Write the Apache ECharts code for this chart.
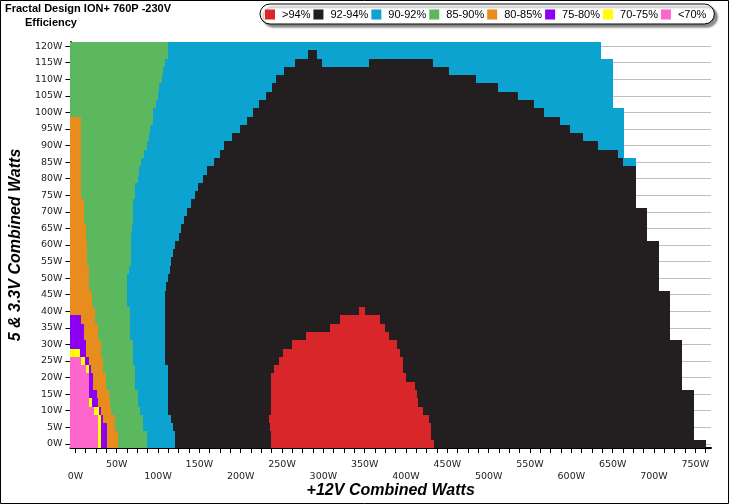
<!DOCTYPE html>
<html><head><meta charset="utf-8">
<script src="https://cdn.jsdelivr.net/npm/echarts@6/dist/echarts.min.js"></script>
<style>html,body{margin:0;padding:0;background:#fff}#c{width:729px;height:504px}</style>
</head><body><div id="c"></div>
<script>
// ---- data (watts) ----
const yRows = [0,2.5,5,7.5,10,12.5,15,17.5,20,22.5,25,27.5,30,32.5,35,37.5,40,42.5,45,47.5,50,52.5,55,57.5,60,62.5,65,67.5,70,72.5,75,77.5,80,82.5,85,87.5,90,92.5,95,97.5,100,102.5,105,107.5,110,112.5,115,117.5,120];
const pinkEnd   = [27.4,27.4,27.4,27.4,23,16.1,16.1,16.1,16.1,13,7];
const yellowEnd = [30.6,30.6,30.6,30.6,28.5,19.5,null,null,null,16,12,6];
const purpleEnd = [38.2,38.2,38.2,34,31,27.4,26.1,21.3,21.3,19,16.5,13.2,13.2,10.5,10.5,6.5];
const orangeEnd = [51.4,51.4,47.4,47.4,43.3,41.8,40.6,36.6,36.6,33.3,33.3,30.6,30.6,27.3,27.3,23.3,23.3,19.7,19.7,16.5,16.5,16.5,14.1,14.1,14.1,12.5,12.5,10.1,10.1,10.1,6.5,6.5,6.5,6.5,6.5,6.5,6.5,6.5,6.5,6.5];
const greenEnd  = [86.3,86.3,82.3,82.3,78.7,75.5,75.5,72.7,72.7,72.7,69.4,69.4,69.4,65.8,65.8,65.8,65.8,62.6,62.6,62.6,62.6,64.6,66.7,66.7,66.7,66.7,68.2,69.4,69.4,69.4,72.7,72.7,75.5,77.3,79.1,83,86.3,88.7,90.3,94.3,94.3,97.5,99.5,100.7,104.3,106.1,108.3,111.6,111.6];
const blackStart= [120.8,120.8,117.6,115.2,112.4,112.4,112.4,112.4,112.4,111.6,108.3,108.3,108.3,108.3,108.3,108.3,108.3,108.3,108.3,109.7,112.4,114,115.5,118.4,120.8,124.8,127.2,131.4,135.6,139.8,145.2,148.9,154.9,159.7,167.8,175.3,180.1,189.2,199.4,207.8,214.4,222.3,230.7,237.3,242.7,252.3,265.6,281];
const gapRows   = [115];
const gapStart  = [297.9];
const gapEnd    = [355.8];
const redStart  = [237,237,235,234,237,237,237,237,237,240.7,246,251,262,278.5,307.7,320,343];
const redEnd    = [434.4,430.4,430.4,427.7,420.5,414,413.2,411,400.4,396.4,396.4,393.1,389.2,380,375.1,368,350];
const blackEndRows = [85,87.5,90,92.5,95,97.5,100,102.5,105,107.5,110,112.5,115,117.5];
const blackEndW    = [663,656,632.6,614.6,598.9,586.9,566.4,554.4,535,511.1,484.2,452.1,432.9,292];
const dataEnd   = [762.6,748,748,748,748,748,748,734.5,734.5,734.5,734.5,734.5,734.5,720,720,720,720,720,720,705.7,705.7,705.7,705.7,705.7,705.7,691,691,691,691,678,678,678,678,678,678,664,664,664,664,664,664,650,650,650,650,650,650,636,636];
const classNames  = ['>94%','92-94%','90-92%','85-90%','80-85%','75-80%','70-75%','<70%'];
const classColors = ['#d9262b','#231f20','#0ca3d0','#5cb85e','#e98c1e','#8b00f3','#ffff00','#ff66cc'];
const yTickLabels = [0,5,10,15,20,25,30,35,40,45,50,55,60,65,70,75,80,85,90,95,100,105,110,115,120];
const xLabelsUpper = [50,150,250,350,450,550,650,750];
const xLabelsLower = [0,100,200,300,400,500,600,700];

// ---- layout constants ----
const xMin = -6, xMax = 769, yMin = -1.25, yMax = 121.25, rowStep = 2.5;
const xMinorTicks = []; for (let v = 0; v <= 762.5; v += 12.5) xMinorTicks.push(v);
const yMinorTicks = []; for (let v = 0; v <= 121; v += 1) yMinorTicks.push(v);

const segs = classNames.map(() => []);
const ci = n => classNames.indexOf(n);
yRows.forEach((v, i) => {
  const hasBlack = blackStart[i] != null;
  const gi = gapRows.indexOf(v);
  const ri = i < redStart.length ? i : -1;
  const bi = blackEndRows.indexOf(v);
  const bEnd = hasBlack ? (bi >= 0 ? blackEndW[bi] : dataEnd[i]) : null;
  const seq = [
    ['<70%', pinkEnd[i]], ['70-75%', yellowEnd[i]], ['75-80%', purpleEnd[i]], ['80-85%', orangeEnd[i]],
    ['85-90%', greenEnd[i]], ['90-92%', blackStart[i]],
    ['92-94%', gi >= 0 ? gapStart[gi] : null], ['90-92%', gi >= 0 ? gapEnd[gi] : null],
    ['92-94%', ri >= 0 ? redStart[ri] : null], ['>94%', ri >= 0 ? redEnd[ri] : null],
    ['92-94%', bEnd], ['90-92%', dataEnd[i]]
  ];
  let cur = xMin;
  seq.forEach(([n, end]) => {
    if (end != null && end > cur) { segs[ci(n)].push([cur, end, v]); cur = end; }
  });
});

function renderItem(params, api) {
  const x0 = api.value(0), x1 = api.value(1), y = api.value(2);
  const p0 = api.coord([x0, y + rowStep / 2]);
  const p1 = api.coord([x1, y - rowStep / 2]);
  const l = Math.round(p0[0]), r = Math.round(p1[0]);
  const t = Math.round(p0[1]), b = Math.round(p1[1]);
  return { type: 'rect', shape: { x: l, y: t, width: r - l, height: b - t }, style: { fill: api.visual('color') } };
}

const labelFont = { fontFamily: 'DejaVu Sans', fontSize: 9.5, color: '#222' };
const nameFont = { fontFamily: 'Liberation Sans', fontWeight: 'bold', fontStyle: 'italic', fontSize: 16, color: '#000' };

const chart = echarts.init(document.getElementById('c'), null, { renderer: 'canvas' });
chart.setOption({
  animation: false,
  backgroundColor: '#fff',
  title: [
    { text: 'Fractal Design ION+ 760P -230V', left: 5, top: 3, padding: 0,
      textStyle: { fontFamily: 'Liberation Sans', fontWeight: 'bold', fontSize: 11, color: '#000' } },
    { text: 'Efficiency', left: 25, top: 17, padding: 0,
      textStyle: { fontFamily: 'Liberation Sans', fontWeight: 'bold', fontSize: 11, color: '#000' } }
  ],
  legend: {
    left: 260, top: 4, width: 460, itemWidth: 10, itemHeight: 10, itemGap: 3,
    padding: [5, 8, 4, 5],
    backgroundColor: '#fff', borderColor: '#000', borderWidth: 1, borderRadius: 11,
    shadowColor: 'rgba(0,0,0,0.45)', shadowOffsetX: 3, shadowOffsetY: 3, shadowBlur: 2,
    icon: 'rect', selectedMode: false,
    textStyle: { fontFamily: 'Liberation Sans', fontSize: 11, color: '#000', width: 36, padding: [0, 0, 0, 2] },
    data: classNames
  },
  grid: { left: 67, right: 18, top: 42, bottom: 52 },
  xAxis: [
    { type: 'value', min: xMin, max: xMax, position: 'bottom',
      name: '+12V Combined Watts', nameLocation: 'middle', nameGap: 35, nameTextStyle: nameFont,
      axisLine: { show: true, onZero: false, lineStyle: { color: '#000', width: 2 } },
      axisTick: { show: true, customValues: xMinorTicks, length: 5, lineStyle: { color: '#000' } },
      axisLabel: { customValues: xLabelsUpper, formatter: v => v + 'W', margin: 12, ...labelFont },
      splitLine: { show: false } },
    { type: 'value', min: xMin, max: xMax, position: 'bottom', offset: 0,
      axisLine: { show: false }, axisTick: { show: false },
      axisLabel: { customValues: xLabelsLower, formatter: v => v + 'W', margin: 24, ...labelFont },
      splitLine: { show: false } }
  ],
  yAxis: [
    { type: 'value', min: yMin, max: yMax, position: 'left',
      name: '5 & 3.3V Combined Watts', nameLocation: 'middle', nameGap: 45, nameTextStyle: nameFont,
      axisLine: { show: true, onZero: false, lineStyle: { color: '#000', width: 2 } },
      axisTick: { show: true, customValues: yTickLabels, length: 5, lineStyle: { color: '#000' } },
      axisLabel: { customValues: yTickLabels, formatter: v => v + 'W', margin: 8, ...labelFont },
      splitLine: { show: true, lineStyle: { color: '#c0c0c0', width: 1 } } },
    { type: 'value', min: yMin, max: yMax, position: 'left', offset: 0,
      axisLine: { show: false },
      axisTick: { show: true, customValues: yMinorTicks, length: 2, lineStyle: { color: '#000' } },
      axisLabel: { show: false }, splitLine: { show: false } }
  ],
  graphic: [
    { type: 'rect', silent: true, z: 100, shape: { x: 0.5, y: 0.5, width: 728, height: 503 },
      style: { fill: 'none', stroke: '#000', lineWidth: 1 } }
  ],
  series: classNames.map((n, k) => ({
    type: 'custom', name: n, renderItem: renderItem, data: segs[k],
    encode: { x: [0, 1], y: 2 }, itemStyle: { color: classColors[k] },
    silent: true, clip: true
  }))
});
</script>
</body></html>
